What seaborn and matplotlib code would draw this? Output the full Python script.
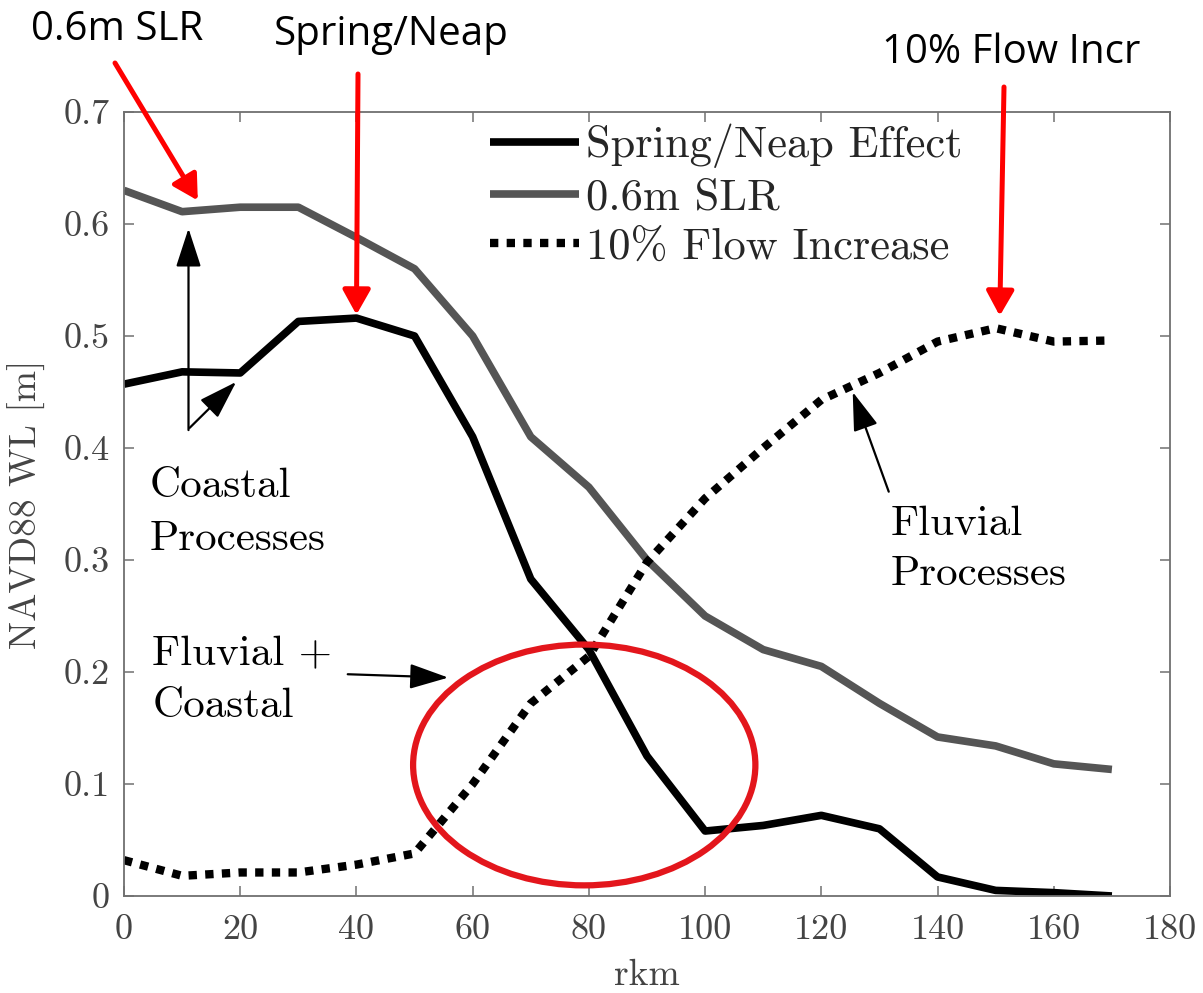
import matplotlib
matplotlib.use("Agg")
import matplotlib.pyplot as plt
import seaborn as sns
import pandas as pd
from matplotlib.patches import Ellipse

# ---------------- data ----------------
rkm = [0, 10, 20, 30, 40, 50, 60, 70, 80, 90, 100, 110, 120, 130, 140, 150, 160, 170]
spring_neap = [0.457, 0.468, 0.467, 0.513, 0.516, 0.500, 0.410, 0.283, 0.220, 0.125,
               0.058, 0.063, 0.072, 0.060, 0.017, 0.005, 0.003, 0.000]
slr_06m = [0.630, 0.611, 0.615, 0.615, 0.588, 0.560, 0.500, 0.410, 0.365, 0.300,
           0.250, 0.220, 0.205, 0.172, 0.142, 0.134, 0.118, 0.113]
flow_10pct = [0.032, 0.018, 0.021, 0.021, 0.028, 0.038, 0.100, 0.172, 0.214, 0.298,
              0.355, 0.400, 0.443, 0.467, 0.495, 0.507, 0.495, 0.496]
series_names = ["Spring/Neap Effect", "0.6m SLR", "10% Flow Increase"]
x_ticks = [0, 20, 40, 60, 80, 100, 120, 140, 160, 180]
y_ticks = [0, 0.1, 0.2, 0.3, 0.4, 0.5, 0.6, 0.7]
y_tick_labels = ["0", "0.1", "0.2", "0.3", "0.4", "0.5", "0.6", "0.7"]

df = pd.DataFrame({
    "rkm": rkm * 3,
    "wl": spring_neap + slr_06m + flow_10pct,
    "series": [series_names[0]] * len(rkm) + [series_names[1]] * len(rkm) + [series_names[2]] * len(rkm),
})

sns.set_theme(style="ticks")
plt.rcParams["font.family"] = ["cmr10", "DejaVu Serif"]
plt.rcParams["axes.formatter.use_mathtext"] = True
plt.rcParams["mathtext.fontset"] = "cm"

W, H = 1203, 993
fig = plt.figure(figsize=(W / 100, H / 100), dpi=100)
ax = fig.add_axes([124 / W, 1 - 896 / H, (1170 - 124) / W, (896 - 112) / H])

styles = {
    series_names[0]: dict(color="black", lw=5.5, linestyle="-"),
    series_names[1]: dict(color="#555555", lw=5.5, linestyle="-"),
    series_names[2]: dict(color="black", lw=6, linestyle=(0, (1, 1))),
}
for name in series_names:
    sub = df[df["series"] == name]
    sns.lineplot(data=sub, x="rkm", y="wl", ax=ax, label=name, sort=False,
                 errorbar=None, solid_capstyle="butt", dash_capstyle="butt", **styles[name])

ax.set_xlim(0, 180)
ax.set_ylim(0, 0.7)
ax.set_xticks(x_ticks)
ax.set_xticklabels([str(v) for v in x_ticks])
ax.set_yticks(y_ticks)
ax.set_yticklabels(y_tick_labels)

spine_c = "#707070"
for s in ax.spines.values():
    s.set_visible(True)
    s.set_color(spine_c)
    s.set_linewidth(1.3)
ax.tick_params(direction="in", length=7, width=1.1, color=spine_c, labelcolor="#444444",
               labelsize=26, top=True, right=True)
ax.tick_params(axis="y", pad=10)
ax.tick_params(axis="x", pad=13)

ax.set_xlabel("rkm", fontsize=27, color="#444444")
ax.set_ylabel("NAVD88 WL [m]", fontsize=27, color="#444444")
ax.xaxis.set_label_coords(0.5, -0.080)
ax.yaxis.set_label_coords(-0.075, 0.5)

leg = ax.legend(frameon=False, loc="upper left", bbox_to_anchor=(0.35, 0.985),
                borderaxespad=0, borderpad=0, handlelength=2.0, handletextpad=0.15,
                labelspacing=0.22, fontsize=32)

# ---------------- annotations in plot ----------------
tfs = 31
ax.text(4.4, 0.356, "Coastal", fontsize=tfs, va="baseline", ha="left", color="black")
ax.text(4.4, 0.309, "Processes", fontsize=tfs, va="baseline", ha="left", color="black")
ax.text(4.9, 0.206, "Fluvial +", fontsize=tfs, va="baseline", ha="left", color="black")
ax.text(4.9, 0.160, "Coastal", fontsize=tfs, va="baseline", ha="left", color="black")
ax.text(131.9, 0.322, "Fluvial", fontsize=tfs, va="baseline", ha="left", color="black")
ax.text(131.9, 0.278, "Processes", fontsize=tfs, va="baseline", ha="left", color="black")

black_arrow = dict(arrowstyle="-|>,head_length=0.8,head_width=0.26", color="black",
                   lw=1.6, mutation_scale=30, shrinkA=0, shrinkB=0)
ax.annotate("", xy=(11.1, 0.596), xytext=(11.1, 0.416), arrowprops=black_arrow)
ax.annotate("", xy=(19.3, 0.459), xytext=(11.3, 0.418), arrowprops=black_arrow)
ax.annotate("", xy=(55.8, 0.195), xytext=(38.5, 0.198), arrowprops=black_arrow)
ax.annotate("", xy=(125.4, 0.450), xytext=(131.6, 0.361), arrowprops=black_arrow)

ell = Ellipse((79.2, 0.117), 58.9, 0.215, fill=False, edgecolor="#e3161c", lw=4.5, zorder=5)
ax.add_patch(ell)

# ---------------- red callouts ----------------
red_arrow = dict(arrowstyle="-|>,head_length=0.5,head_width=0.28", color="#ff0000",
                 lw=3.6, mutation_scale=30, shrinkA=0, shrinkB=0)
ax.annotate("", xy=(12.7, 0.621), xycoords="data", xytext=(115, H - 63),
            textcoords="figure pixels", arrowprops=red_arrow, annotation_clip=False, zorder=10)
ax.annotate("", xy=(40.0, 0.519), xycoords="data", xytext=(358, H - 74),
            textcoords="figure pixels", arrowprops=red_arrow, annotation_clip=False, zorder=10)
ax.annotate("", xy=(150.7, 0.518), xycoords="data", xytext=(1004, H - 87),
            textcoords="figure pixels", arrowprops=red_arrow, annotation_clip=False, zorder=10)

cfs = 29
cfam = ["Open Sans", "DejaVu Sans"]
fig.text(31 / W, 1 - 40 / H, "0.6m SLR", fontsize=cfs, family=cfam,
         va="baseline", ha="left", color="black")
fig.text(274 / W, 1 - 45 / H, "Spring/Neap", fontsize=cfs, family=cfam,
         va="baseline", ha="left", color="black")
fig.text(882 / W, 1 - 63 / H, "10% Flow Incr", fontsize=cfs, family=cfam,
         va="baseline", ha="left", color="black")

fig.savefig("out.png", dpi=100)
